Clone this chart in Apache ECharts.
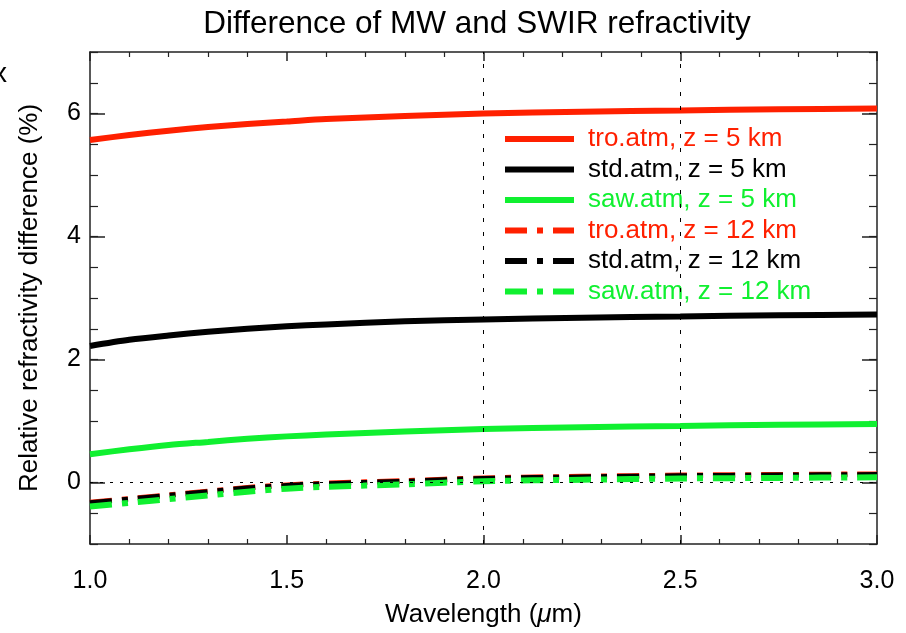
<!DOCTYPE html>
<html>
<head>
<meta charset="utf-8">
<script src="https://cdn.jsdelivr.net/npm/echarts@6/dist/echarts.min.js"></script>
<style>
html,body{margin:0;padding:0;background:#fff;}
#chart{width:906px;height:633px;}
</style>
</head>
<body>
<div id="chart"></div>
<script>
// ---- data ----
const wavelength = [1.0, 1.1, 1.2, 1.3, 1.4, 1.5, 1.6, 1.8, 2.0, 2.25, 2.5, 2.75, 3.0];
const tro5  = [5.57, 5.65, 5.72, 5.78, 5.83, 5.87, 5.91, 5.96, 6.00, 6.03, 6.05, 6.07, 6.08];
const std5  = [2.22, 2.32, 2.39, 2.45, 2.50, 2.54, 2.57, 2.62, 2.65, 2.68, 2.70, 2.72, 2.73];
const saw5  = [0.46, 0.54, 0.61, 0.66, 0.71, 0.75, 0.78, 0.83, 0.87, 0.90, 0.92, 0.94, 0.95];
const tro12 = [-0.32, -0.26, -0.20, -0.14, -0.08, -0.04, -0.01, 0.03, 0.075, 0.10, 0.12, 0.13, 0.14];
const std12 = [-0.33, -0.27, -0.21, -0.15, -0.09, -0.05, -0.02, 0.02, 0.065, 0.09, 0.11, 0.12, 0.13];
const saw12 = [-0.39, -0.33, -0.27, -0.21, -0.15, -0.10, -0.07, -0.03, 0.02, 0.045, 0.065, 0.075, 0.085];
const seriesNames = ['tro.atm, z = 5 km', 'std.atm, z = 5 km', 'saw.atm, z = 5 km',
                     'tro.atm, z = 12 km', 'std.atm, z = 12 km', 'saw.atm, z = 12 km'];
const xTickValues = [1.0, 1.5, 2.0, 2.5, 3.0];
const yTickLabels = [0, 2, 4, 6];
const refX = [2.0, 2.5];
const refY = [0];

// ---- style ----
const RED = '#ff2000', BLACK = '#000000', GREEN = '#10f030';
const FONT = '"Liberation Sans", Arial, Helvetica, sans-serif';
const AX = '#222';
const dashDot = [22, 10, 6, 10];

const pts = arr => wavelength.map((x, i) => [x, arr[i]]);

const chart = echarts.init(document.getElementById('chart'), null, {renderer: 'canvas'});

function lineSeries(name, arr, color, dashed, width) {
  return {
    name: name, type: 'line', data: pts(arr),
    xAxisIndex: 0, yAxisIndex: 0,
    symbol: 'none', showSymbol: false, smooth: 0.3,
    lineStyle: {color: color, width: width, type: dashed ? dashDot : 'solid', cap: 'butt'},
    itemStyle: {color: color},
    z: 3
  };
}

const series = [
  lineSeries(seriesNames[0], tro5, RED, false, 6),
  lineSeries(seriesNames[1], std5, BLACK, false, 6),
  lineSeries(seriesNames[2], saw5, GREEN, false, 6),
  lineSeries(seriesNames[3], tro12, RED, true, 5),
  lineSeries(seriesNames[4], std12, BLACK, true, 5),
  lineSeries(seriesNames[5], saw12, GREEN, true, 6),
  {
    name: 'refs', type: 'line', data: [], xAxisIndex: 0, yAxisIndex: 0,
    silent: true, z: 1,
    markLine: {
      silent: true, symbol: ['none', 'none'], label: {show: false}, animation: false,
      data: refX.map(v => ({xAxis: v, lineStyle: {color: '#000', width: 1, type: [4, 10]}}))
        .concat(refY.map(v => ({yAxis: v, lineStyle: {color: '#000', width: 1, type: [3, 7]}})))
    }
  }
];

const grid = {left: 90, right: 29, top: 52, bottom: 89, containLabel: false};

const xBase = {
  type: 'value', min: 1, max: 3, interval: 0.5,
  axisLine: {show: true, onZero: false, lineStyle: {color: AX, width: 1.5}},
  axisTick: {show: true, inside: true, length: 9, lineStyle: {color: AX, width: 1.5}},
  minorTick: {show: true, splitNumber: 5, length: 5, lineStyle: {color: AX, width: 1.2}},
  splitLine: {show: false}, minorSplitLine: {show: false}
};

const option = {
  animation: false,
  backgroundColor: '#fff',
  textStyle: {fontFamily: FONT},
  title: {
    text: 'Difference of MW and SWIR refractivity',
    left: 472, top: 3, textAlign: 'center',
    textStyle: {fontFamily: FONT, fontSize: 31.5, fontWeight: 'normal', color: '#000'}
  },
  grid: grid,
  legend: {
    orient: 'vertical', left: 502, top: 126, padding: 0,
    itemWidth: 69, itemHeight: 26, itemGap: 4.5,
    lineStyle: {width: 6},
    itemStyle: {opacity: 0},
    selectedMode: false,
    textStyle: {fontFamily: FONT, fontSize: 26, lineHeight: 26, padding: [0, 0, 0, 9]},
    data: [
      {name: seriesNames[0], textStyle: {color: RED}},
      {name: seriesNames[1], textStyle: {color: BLACK}},
      {name: seriesNames[2], textStyle: {color: GREEN}},
      {name: seriesNames[3], textStyle: {color: RED}},
      {name: seriesNames[4], textStyle: {color: BLACK}},
      {name: seriesNames[5], textStyle: {color: GREEN}}
    ]
  },
  xAxis: [
    Object.assign({}, xBase, {
      position: 'bottom',
      name: '{n|Wavelength (}{i|\u03BC}{n|m)}',
      nameLocation: 'middle', nameGap: 58,
      nameTextStyle: {rich: {
        n: {fontFamily: FONT, fontSize: 26, color: '#000'},
        i: {fontFamily: FONT, fontSize: 26, color: '#000', fontStyle: 'italic'}
      }},
      axisLabel: {
        show: true, margin: 25, fontFamily: FONT, fontSize: 25, color: '#000',
        customValues: xTickValues,
        formatter: v => Number(v).toFixed(1)
      }
    }),
    Object.assign({}, xBase, {position: 'top', axisLabel: {show: false}})
  ],
  yAxis: [
    {
      type: 'value', min: -1, max: 7, interval: 0.5, position: 'left',
      name: 'Relative refractivity difference (%)',
      nameLocation: 'middle', nameGap: 47, nameRotate: 90,
      nameTextStyle: {fontFamily: FONT, fontSize: 26, color: '#000'},
      axisLine: {show: true, onZero: false, lineStyle: {color: AX, width: 1.5}},
      axisTick: {show: true, inside: true, length: 15, customValues: yTickLabels, lineStyle: {color: AX, width: 1.5}},
      axisLabel: {show: true, margin: 9, fontFamily: FONT, fontSize: 25, color: '#000', customValues: yTickLabels},
      splitLine: {show: false}
    },
    {
      type: 'value', min: -1, max: 7, interval: 0.5, position: 'left',
      axisLine: {show: false},
      axisTick: {show: true, inside: true, length: 8, lineStyle: {color: AX, width: 1.2}},
      axisLabel: {show: false}, splitLine: {show: false}
    },
    {
      type: 'value', min: -1, max: 7, interval: 0.5, position: 'right',
      axisLine: {show: true, onZero: false, lineStyle: {color: AX, width: 1.5}},
      axisTick: {show: true, inside: true, length: 15, customValues: yTickLabels, lineStyle: {color: AX, width: 1.5}},
      axisLabel: {show: false}, splitLine: {show: false}
    },
    {
      type: 'value', min: -1, max: 7, interval: 0.5, position: 'right',
      axisLine: {show: false},
      axisTick: {show: true, inside: true, length: 8, lineStyle: {color: AX, width: 1.2}},
      axisLabel: {show: false}, splitLine: {show: false}
    }
  ],
  graphic: [
    {type: 'text', left: -7, top: 60, silent: true,
     style: {text: 'x', fontFamily: FONT, fontSize: 28, fill: '#000'}}
  ],
  series: series
};

chart.setOption(option);
</script>
</body>
</html>
